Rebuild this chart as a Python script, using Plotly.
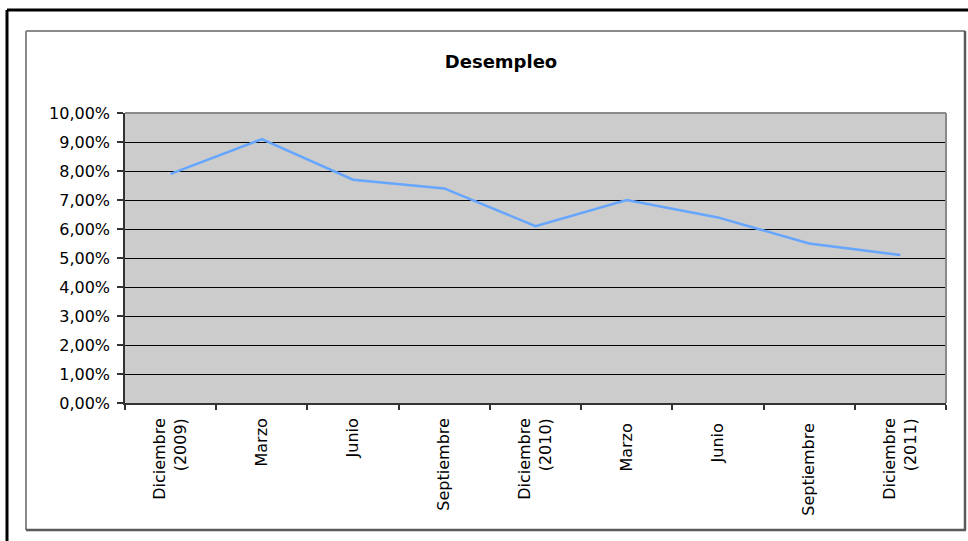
import plotly.graph_objects as go

categories = ["Diciembre<br>(2009)", "Marzo", "Junio", "Septiembre", "Diciembre<br>(2010)",
              "Marzo ", "Junio ", "Septiembre ", "Diciembre<br>(2011)"]
desempleo = [0.079, 0.091, 0.077, 0.074, 0.061, 0.070, 0.064, 0.055, 0.051]
title_text = "Desempleo"

W, H = 968, 541
L, R, T, B = 125, 946, 113, 403


def px(x):
    return (x - L) / (R - L)


def py(y):
    return (B - y) / (B - T)


FONT = "DejaVu Sans"

fig = go.Figure()
fig.add_trace(go.Scatter(
    x=categories, y=desempleo, mode="lines",
    line=dict(color="#66a6ff", width=2.5),
    hoverinfo="x+y", showlegend=False,
))

shapes = [
    # outer black frame
    dict(type="line", xref="paper", yref="paper", x0=px(7), x1=px(7), y0=py(10), y1=py(560),
         line=dict(color="black", width=3)),
    dict(type="line", xref="paper", yref="paper", x0=px(7), x1=px(990), y0=py(10), y1=py(10),
         line=dict(color="black", width=3)),
    # inner chart-area frame
    dict(type="line", xref="paper", yref="paper", x0=px(26), x1=px(965), y0=py(31), y1=py(31),
         line=dict(color="#8a8a8a", width=2)),
    dict(type="line", xref="paper", yref="paper", x0=px(26), x1=px(26), y0=py(31), y1=py(530),
         line=dict(color="#8a8a8a", width=2)),
    dict(type="line", xref="paper", yref="paper", x0=px(26), x1=px(966), y0=py(530), y1=py(530),
         line=dict(color="#5a5a5a", width=2.5)),
    dict(type="line", xref="paper", yref="paper", x0=px(965), x1=px(965), y0=py(31), y1=py(530),
         line=dict(color="#5a5a5a", width=2.5)),
    # plot area top/right border
    dict(type="line", xref="paper", yref="paper", x0=0, x1=1, y0=1, y1=1,
         line=dict(color="#8a8a8a", width=2)),
    dict(type="line", xref="paper", yref="paper", x0=1, x1=1, y0=0, y1=1,
         line=dict(color="#8a8a8a", width=2)),
]

fig.update_layout(
    width=W, height=H,
    margin=dict(l=L, r=W - R, t=T, b=H - B),
    paper_bgcolor="white",
    plot_bgcolor="#cccccc",
    separators=",.",
    font=dict(family=FONT, color="black", size=15),
    title=dict(text="<b>" + title_text + "</b>", xref="container", yref="container",
               x=501 / W, xanchor="center", y=1 - 62 / H, yanchor="middle",
               font=dict(family=FONT, size=18, color="black")),
    shapes=shapes,
    xaxis=dict(
        type="category", range=[-0.5, 8.5], tickson="boundaries",
        ticks="outside", ticklen=5, tickcolor="#333333", tickwidth=1.5,
        showline=True, linecolor="#333333", linewidth=1.5,
        showgrid=False, tickangle=-90, ticklabelstandoff=7,
        tickfont=dict(family=FONT, size=16),
        fixedrange=True,
    ),
    yaxis=dict(
        range=[0, 0.1], dtick=0.01, tickformat=".2%",
        ticks="outside", ticklen=6, tickcolor="#333333", tickwidth=1.5,
        showline=True, linecolor="#333333", linewidth=1.5,
        showgrid=True, gridcolor="black", gridwidth=1.2,
        zeroline=False, ticklabelstandoff=4,
        tickfont=dict(family=FONT, size=16),
        fixedrange=True,
    ),
)

fig.write_html("out.html")
